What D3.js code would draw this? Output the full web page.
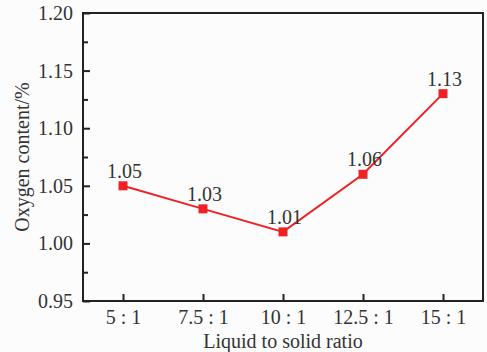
<!DOCTYPE html>
<html><head><meta charset="utf-8">
<script src="https://cdn.jsdelivr.net/npm/d3@7"></script>
<style>body{margin:0;background:#fcfcfc}svg{display:block}text{font-family:"Liberation Serif","DejaVu Serif",serif;fill:#333}</style>
</head><body>
<script>
const categories = ["5 : 1", "7.5 : 1", "10 : 1", "12.5 : 1", "15 : 1"];
const values = [1.05, 1.03, 1.01, 1.06, 1.13];
const yTicks = [0.95, 1.00, 1.05, 1.10, 1.15, 1.20];
const yMinorTicks = [0.975, 1.025, 1.075, 1.125, 1.175];

const W = 487, H = 352;
const m = {left: 83, right: 4, top: 13, bottom: 51};
const FS = 20;
const FF = '"Liberation Serif","DejaVu Serif",serif';
const svg = d3.select("body").append("svg").attr("width", W).attr("height", H);
const x = d3.scalePoint().domain(categories).range([m.left, W - m.right]).padding(0.5);
const y = d3.scaleLinear().domain([0.95, 1.20]).range([H - m.bottom, m.top]);

svg.append("rect").attr("x", m.left).attr("y", m.top)
  .attr("width", W - m.right - m.left).attr("height", H - m.bottom - m.top)
  .attr("fill", "none").attr("stroke", "#222").attr("stroke-width", 2);

const yAxis = svg.append("g").attr("transform", `translate(${m.left},0)`)
  .call(d3.axisLeft(y).tickValues(yTicks).tickFormat(d3.format(".2f")).tickSizeInner(-7).tickSizeOuter(0).tickPadding(10));
yAxis.attr("font-family", FF).attr("font-size", FS);
yAxis.select(".domain").remove();
yAxis.selectAll("line").attr("stroke", "#222").attr("stroke-width", 2);
yAxis.selectAll("text").attr("fill", "#333");

const yMinor = svg.append("g").attr("transform", `translate(${m.left},0)`)
  .call(d3.axisLeft(y).tickValues(yMinorTicks).tickFormat("").tickSizeInner(-5).tickSizeOuter(0));
yMinor.select(".domain").remove();
yMinor.selectAll("line").attr("stroke", "#222").attr("stroke-width", 2);

const xAxis = svg.append("g").attr("transform", `translate(0,${H - m.bottom})`)
  .call(d3.axisBottom(x).tickSizeInner(-7).tickSizeOuter(0).tickPadding(9));
xAxis.attr("font-family", FF).attr("font-size", FS);
xAxis.select(".domain").remove();
xAxis.selectAll("line").attr("stroke", "#222").attr("stroke-width", 2);
xAxis.selectAll("text").attr("fill", "#333");

const red = "#ee2225";
svg.append("path").datum(values)
  .attr("d", d3.line().x((d, i) => x(categories[i])).y(d => y(d)))
  .attr("fill", "none").attr("stroke", red).attr("stroke-width", 2);

svg.selectAll(".pt").data(values).join("rect")
  .attr("x", (d, i) => x(categories[i]) - 4.5).attr("y", d => y(d) - 4.5)
  .attr("width", 9).attr("height", 9).attr("fill", red);

svg.selectAll(".lbl").data(values).join("text")
  .attr("x", (d, i) => x(categories[i]) + 1.5).attr("y", d => y(d) - 8)
  .attr("text-anchor", "middle").attr("font-size", FS)
  .text(d => d3.format(".2f")(d));

svg.append("text").attr("x", (m.left + W - m.right) / 2).attr("y", 348)
  .attr("text-anchor", "middle").attr("font-size", FS).text("Liquid to solid ratio");
svg.append("text").attr("transform", `translate(29,${(m.top + H - m.bottom) / 2}) rotate(-90)`)
  .attr("text-anchor", "middle").attr("font-size", FS).text("Oxygen content/%");
</script>
</body></html>
